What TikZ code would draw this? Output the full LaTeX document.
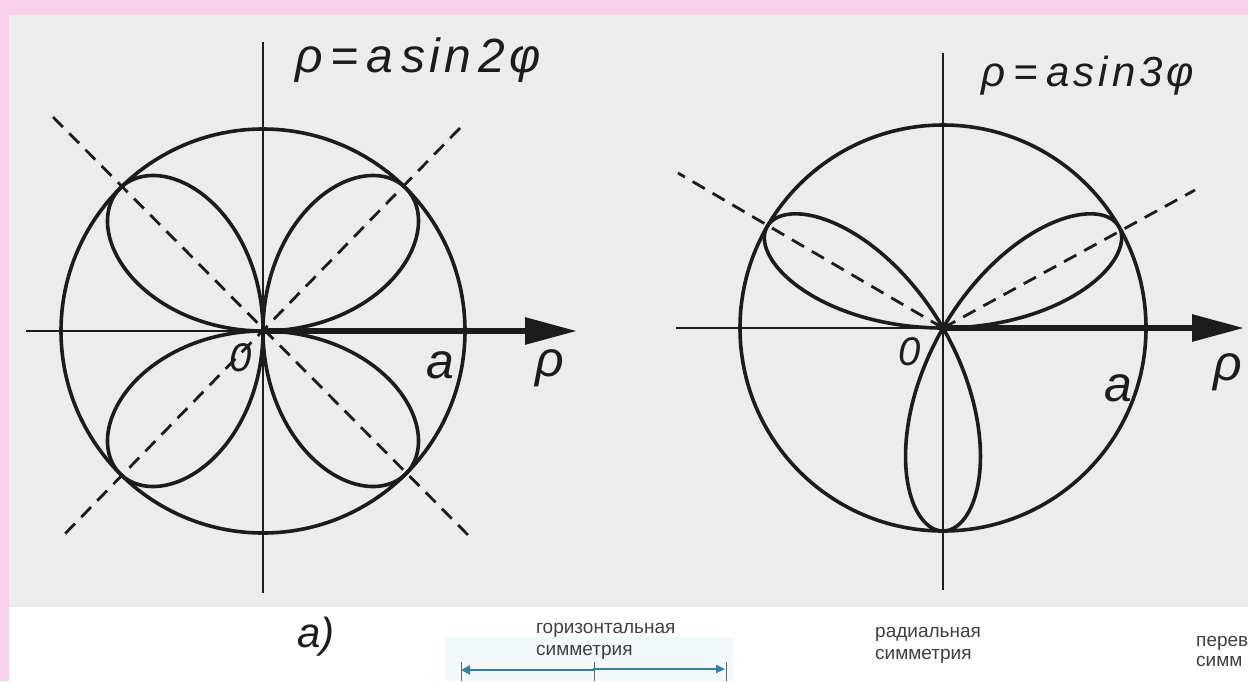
\documentclass[tikz,border=0pt]{standalone}
\usepackage{fontspec}
\setmainfont{Liberation Sans}
\usetikzlibrary{arrows.meta}
\definecolor{pinkband}{RGB}{249,208,236}
\definecolor{scan}{RGB}{236,236,236}
\definecolor{ink}{RGB}{28,28,28}
\definecolor{teal}{RGB}{52,128,160}
\definecolor{paleblue}{RGB}{243,249,251}
\newcommand\ks{\kern8pt}
\newcommand\kt{\kern4pt}
\begin{document}
\begin{tikzpicture}[x=1pt,y=-1pt,
  curve/.style={draw=ink,line width=3.6pt,line join=round},
  thinaxis/.style={draw=ink,line width=2.4pt},
  posaxis/.style={draw=ink,line width=6pt,-{Triangle[length=52pt,width=26pt]}},
  dashline/.style={draw=ink,line width=2.8pt,dash pattern=on 14pt off 9pt},
  formula/.style={font=\itshape\fontsize{48}{48}\selectfont,inner sep=0pt,text=ink},
  formulab/.style={font=\itshape\fontsize{42}{42}\selectfont,inner sep=0pt,text=ink},
  lbl/.style={font=\itshape\fontsize{40}{40}\selectfont,inner sep=0pt,text=ink},
  biglbl/.style={font=\itshape\fontsize{50}{50}\selectfont,inner sep=0pt,text=ink},
  caption/.style={font=\fontsize{19}{19}\selectfont,inner sep=0pt,align=left,text=black!75},
  tick/.style={draw=black!60,line width=1pt},
]
\useasboundingbox (0,0) rectangle (1248,681);
% background: pink margins, grey scanned page, white strip below
\fill[pinkband] (0,0) rectangle (1248,681);
\fill[scan] (9,15) rectangle (1248,607);
\fill[white] (9,607) rectangle (1248,681);
\fill[paleblue] (445,637) rectangle (733,681);

% ---------- left figure: rho = a sin 2phi ----------
\coordinate (O1) at (263,331);
\coordinate (L1w) at (26,331);
\coordinate (L1e) at (577,331);
\coordinate (L1n) at (263,42);
\coordinate (L1s) at (263,593);
\coordinate (D1a) at (53,117);
\coordinate (D1b) at (468,535);
\coordinate (D1c) at (460,128);
\coordinate (D1d) at (59,540);
\draw[curve] (O1) circle[radius=202];
\draw[curve] plot[domain=0:360,samples=721] ([shift={(O1)}]\x:{202*sin(2*\x)});
\draw[dashline] (D1a) -- (D1b);
\draw[dashline] (D1c) -- (D1d);
\draw[thinaxis] (L1n) -- (L1s);
\draw[thinaxis] (L1w) -- (O1);
\draw[posaxis] (O1) -- (L1e);
\node[formula,anchor=base] (F1) at (418,72) {ρ\ks=\ks a\ks s\kt i\kt n\ks 2\kt φ};
\node[lbl] (Z1) at (241,358) {0};
\node[biglbl] (A1) at (440,365) {a};
\node[biglbl] (R1) at (550,368) {ρ};

% ---------- right figure: rho = a sin 3phi ----------
\coordinate (O2) at (943,328);
\coordinate (L2w) at (676,328);
\coordinate (L2e) at (1244,328);
\coordinate (L2n) at (943,53);
\coordinate (L2s) at (943,590);
\coordinate (D2a) at (678,173);
\coordinate (D2b) at (1195,190);
\draw[curve] (O2) circle[radius=203];
\draw[curve] plot[domain=0:180,samples=721] ([shift={(O2)}]\x:{-203*sin(3*\x)});
\draw[dashline] (O2) -- (D2a);
\draw[dashline] (O2) -- (D2b);
\draw[thinaxis] (L2n) -- (L2s);
\draw[thinaxis] (L2w) -- (O2);
\draw[posaxis] (O2) -- (L2e);
\node[formulab,anchor=base] (F2) at (1088,86) {ρ\ks=\ks a\kt s\kt i\kt n\kt 3\kt φ};
\node[lbl] (Z2) at (910,352) {0};
\node[biglbl] (A2) at (1118,388) {a};
\node[biglbl] (R2) at (1228,372) {ρ};

% ---------- caption strip ----------
\node[font=\itshape\fontsize{42}{42}\selectfont,inner sep=0pt,text=ink] (cap) at (316,637) {а)};
\node[caption,anchor=base west] (h1) at (536,633) {горизонтальная};
\node[caption,anchor=base west] (h2) at (536,655) {симметрия};
\node[caption,anchor=base west] (r1) at (875,637) {радиальная};
\node[caption,anchor=base west] (r2) at (875,659) {симметрия};
\node[caption,anchor=base west] (p1) at (1196,646) {перев};
\node[caption,anchor=base west] (p2) at (1196,666) {симм};
\coordinate (HL) at (461,670);
\coordinate (HM) at (594,670);
\coordinate (HR) at (725,669);
\draw[tick] (461,662) -- (461,681);
\draw[tick] (594,662) -- (594,681);
\draw[tick] (726,662) -- (726,681);
\draw[teal,line width=2.6pt,-{Triangle[length=9pt,width=9pt]}] (HM) -- (HL);
\draw[teal,line width=1.6pt,-{Triangle[length=9pt,width=8pt]}] (HM) |- (HR);
\end{tikzpicture}
\end{document}
